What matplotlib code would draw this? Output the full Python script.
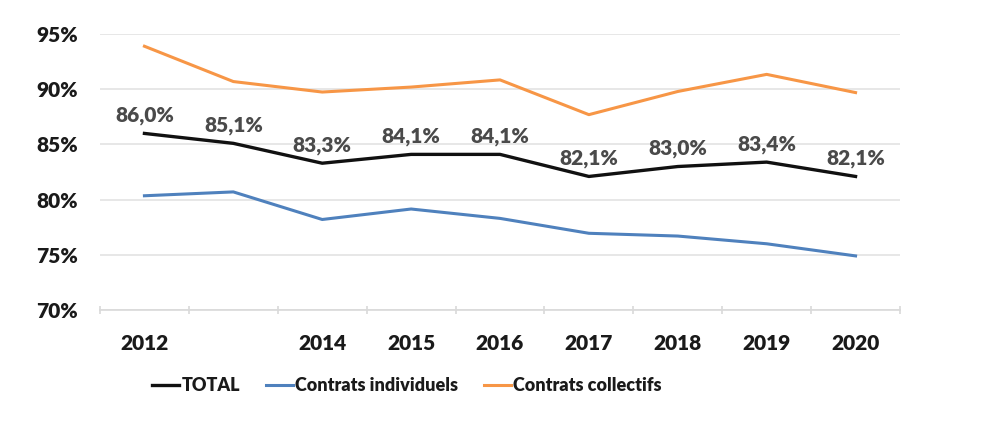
import matplotlib
matplotlib.use("Agg")
import matplotlib.pyplot as plt
from matplotlib.ticker import FixedLocator, PercentFormatter

plt.rcParams['font.family'] = ['Lato', 'DejaVu Sans']

# donnees
annees = ["2012", "", "2014", "2015", "2016", "2017", "2018", "2019", "2020"]
total = [86.0, 85.1, 83.3, 84.1, 84.1, 82.1, 83.0, 83.4, 82.1]
individuels = [80.35, 80.7, 78.2, 79.15, 78.3, 76.95, 76.7, 76.0, 74.9]
collectifs = [93.9, 90.7, 89.75, 90.2, 90.85, 87.7, 89.8, 91.35, 89.7]
etiquettes = ["86,0%", "85,1%", "83,3%", "84,1%", "84,1%", "82,1%", "83,0%", "83,4%", "82,1%"]

fig = plt.figure(figsize=(10, 4.21), dpi=100)
ax = fig.add_axes([0.1, 0.2637, 0.8, 0.6553])

x = list(range(len(annees)))
ax.plot(x, total, color="#111111", lw=2.4, label="TOTAL", zorder=3)
ax.plot(x, individuels, color="#4F81BD", lw=2.2, label="Contrats individuels", zorder=3)
ax.plot(x, collectifs, color="#F79646", lw=2.2, label="Contrats collectifs", zorder=3)

for xi, yi, txt in zip(x, total, etiquettes):
    ax.annotate(txt, (xi, yi), xytext=(0, 6), textcoords="offset points",
                ha="center", va="bottom", fontsize=15, fontweight="heavy",
                color="#4a4a4a")

ax.set_xlim(-0.5, len(annees) - 0.5)
ax.set_ylim(70, 95)
ax.set_yticks([70, 75, 80, 85, 90, 95])
ax.yaxis.set_major_formatter(PercentFormatter(decimals=0))
ax.set_xticks(x)
ax.set_xticklabels(annees)
ax.xaxis.set_minor_locator(FixedLocator([i - 0.5 for i in range(len(annees) + 1)]))

ax.grid(axis="y", color="#e3e3e3", lw=1.2, zorder=0)
for s in ["top", "right", "left"]:
    ax.spines[s].set_visible(False)
ax.spines["bottom"].set_color("#d9d9d9")
ax.spines["bottom"].set_linewidth(1.2)

ax.tick_params(axis="y", length=0, pad=16, labelsize=15, labelcolor="#1a1a1a")
ax.tick_params(axis="x", which="major", length=0, pad=17, labelsize=15, labelcolor="#1a1a1a")
ax.tick_params(axis="x", which="minor", length=6, width=1.2, color="#d9d9d9", direction="inout")
for lab in ax.get_xticklabels() + ax.get_yticklabels():
    lab.set_fontweight("heavy")

leg = fig.legend(loc="center", bbox_to_anchor=(0.407, 0.084), ncol=3, frameon=False,
                 fontsize=13, handlelength=1.5, handletextpad=0.15, columnspacing=1.4)
for t in leg.get_texts():
    t.set_fontweight("heavy")
    t.set_color("#1a1a1a")

fig.savefig("out.png", dpi=100, facecolor="white")
